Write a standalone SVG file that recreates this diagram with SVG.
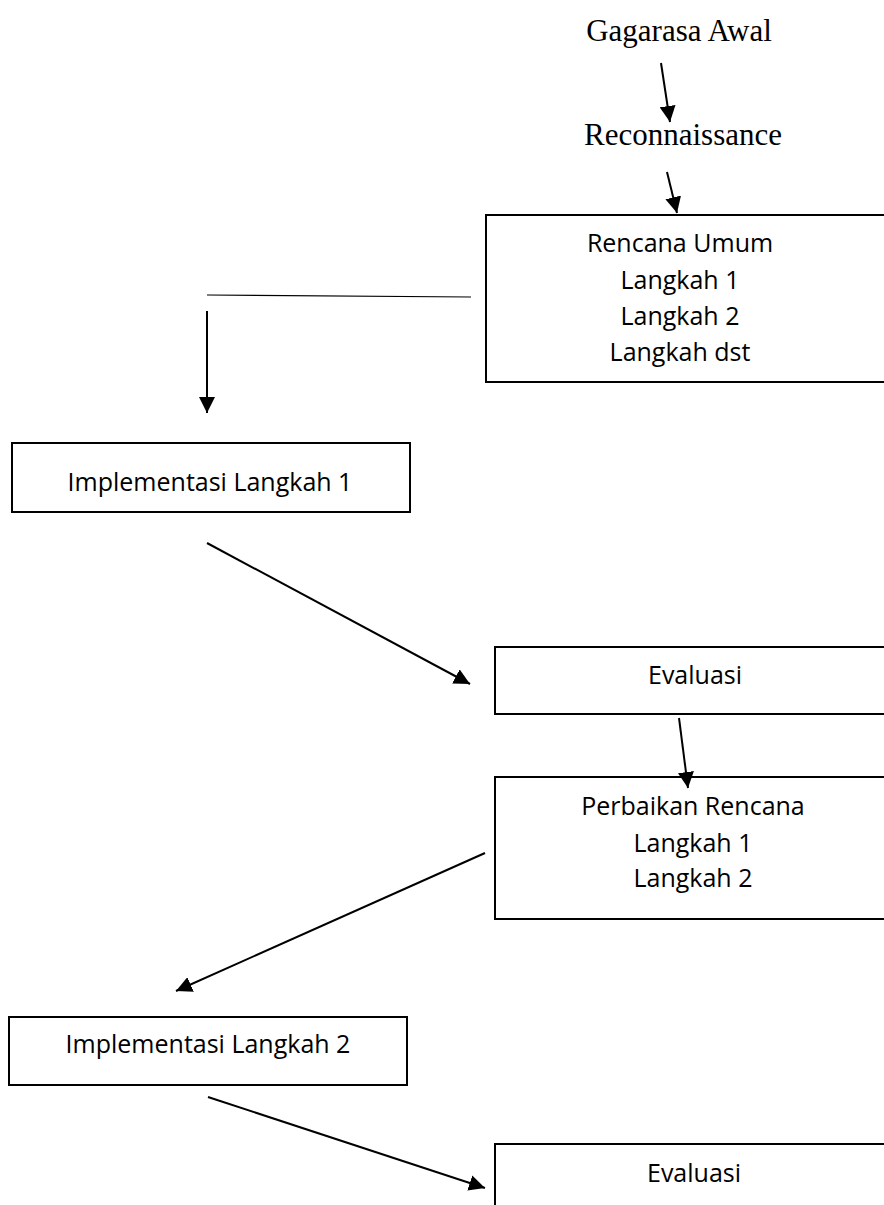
<svg xmlns="http://www.w3.org/2000/svg" width="884" height="1205" viewBox="0 0 884 1205">
<defs>
<style>
.box{fill:#fff;stroke:#000;stroke-width:2}
.t{font-family:"Open Sans","Noto Sans",sans-serif;font-size:25px;fill:#000;text-anchor:middle}
.s{font-family:"Liberation Serif","Times New Roman",serif;font-size:31px;fill:#000;text-anchor:middle}
.c{stroke:#000;stroke-width:2;fill:none}
</style>
<marker id="ah" markerUnits="userSpaceOnUse" markerWidth="18" markerHeight="16" refX="16" refY="8" orient="auto">
<path d="M0,0 L16,8 L0,16 Z" fill="#000"/>
</marker>
</defs>
<rect width="884" height="1205" fill="#fff"/>
<g id="gagarasa"><text class="s" x="679" y="41">Gagarasa Awal</text></g>
<g id="recon"><text class="s" x="683" y="145">Reconnaissance</text></g>
<g id="rencana">
<rect class="box" x="486" y="215" width="410" height="167"/>
<text class="t" x="680" y="252">Rencana Umum</text>
<text class="t" x="680" y="289">Langkah 1</text>
<text class="t" x="680" y="325">Langkah 2</text>
<text class="t" x="680" y="361">Langkah dst</text>
</g>
<g id="impl1">
<rect class="box" x="12" y="443" width="398" height="69"/>
<text class="t" x="210" y="491">Implementasi Langkah 1</text>
</g>
<g id="eval1">
<rect class="box" x="495" y="647" width="400" height="67"/>
<text class="t" x="695" y="684">Evaluasi</text>
</g>
<g id="perbaikan">
<rect class="box" x="495" y="777" width="400" height="142"/>
<text class="t" x="693" y="815">Perbaikan Rencana</text>
<text class="t" x="693" y="852">Langkah 1</text>
<text class="t" x="693" y="887">Langkah 2</text>
</g>
<g id="impl2">
<rect class="box" x="9" y="1017" width="398" height="68"/>
<text class="t" x="208" y="1053">Implementasi Langkah 2</text>
</g>
<g id="eval2">
<rect class="box" x="495" y="1144" width="400" height="80"/>
<text class="t" x="694" y="1182">Evaluasi</text>
</g>
<g id="connectors">
<line class="c" x1="661" y1="63" x2="670" y2="122" marker-end="url(#ah)"/>
<line class="c" x1="667" y1="172" x2="677" y2="213" marker-end="url(#ah)"/>
<line x1="207" y1="295" x2="471" y2="297" stroke="#000" stroke-width="1.2"/>
<line class="c" x1="207" y1="311" x2="207" y2="413" marker-end="url(#ah)"/>
<line class="c" x1="207" y1="543" x2="470" y2="684" marker-end="url(#ah)"/>
<line class="c" x1="679" y1="718" x2="688" y2="788" marker-end="url(#ah)"/>
<line class="c" x1="485" y1="853" x2="176" y2="991" marker-end="url(#ah)"/>
<line class="c" x1="208" y1="1097" x2="485" y2="1188" marker-end="url(#ah)"/>
</g>
</svg>
